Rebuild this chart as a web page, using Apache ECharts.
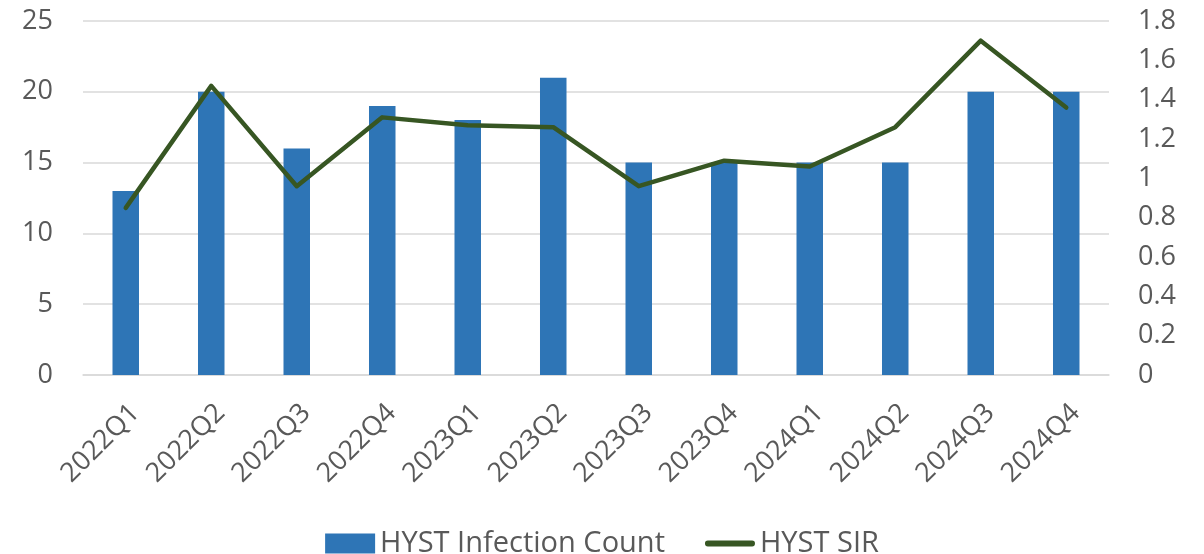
<!DOCTYPE html>
<html>
<head>
<meta charset="utf-8">
<script src="https://cdn.jsdelivr.net/npm/echarts@6/dist/echarts.min.js"></script>
<style>
html,body{margin:0;padding:0;background:#fff;}
#main{width:1204px;height:554px;}
</style>
</head>
<body>
<div id="main"></div>
<script>
// 数据
var quarters = ['2022Q1','2022Q2','2022Q3','2022Q4','2023Q1','2023Q2','2023Q3','2023Q4','2024Q1','2024Q2','2024Q3','2024Q4'];
var infectionCount = [13,20,16,19,18,21,15,15,15,15,20,20];
var sir = [0.85,1.47,0.96,1.31,1.27,1.26,0.96,1.09,1.06,1.26,1.70,1.36];

var font = 'Open Sans, Noto Sans, sans-serif';
var textColor = '#595959';
//图例中的线条图标
var lineIcon = 'path://M3,0 L49,0 A3,3 0 0 1 49,6 L3,6 A3,3 0 0 1 3,0 Z';

var myChart = echarts.init(document.getElementById('main'));
var option = {
    animation: false,
    grid: {left: 83, right: 95, top: 21, bottom: 179},
    legend: {
        top: 524,
        left: 'center',
        itemGap: 40,
        itemWidth: 50,
        itemHeight: 20,
        textStyle: {fontFamily: font, fontSize: 29, color: textColor},
        data: [
            {name: 'HYST Infection Count', icon: 'rect'},
            {name: 'HYST SIR', icon: lineIcon}
        ]
    },
    xAxis: {
        type: 'category',
        data: quarters,
        axisLine: {lineStyle: {color: '#d9d9d9', width: 1.5}},
        axisTick: {show: false},
        axisLabel: {
            rotate: 45,
            margin: 24,
            verticalAlign: 'top',
            fontFamily: font,
            fontSize: 27,
            color: textColor
        }
    },
    yAxis: [{
        type: 'value',
        min: 0,
        max: 25,
        interval: 5,
        axisLine: {show: false},
        axisTick: {show: false},
        splitLine: {lineStyle: {color: '#d9d9d9', width: 1.5}},
        axisLabel: {fontFamily: font, fontSize: 27, color: textColor, margin: 30}
    }, {
        type: 'value',
        min: 0,
        max: 1.8,
        interval: 0.2,
        axisLine: {show: false},
        axisTick: {show: false},
        splitLine: {show: false},
        axisLabel: {fontFamily: font, fontSize: 27, color: textColor, margin: 29,
            formatter: function (v) { return String(Math.round(v * 10) / 10); }}
    }],
    series: [{
        name: 'HYST Infection Count',
        type: 'bar',
        data: infectionCount,
        barWidth: '31%',
        itemStyle: {color: '#2e75b6'}
    }, {
        name: 'HYST SIR',
        type: 'line',
        yAxisIndex: 1,
        data: sir,
        symbol: 'none',
        lineStyle: {color: '#375623', width: 4.5, cap: 'round', join: 'round'},
        itemStyle: {color: '#375623'}
    }]
};
myChart.setOption(option);
</script>
</body>
</html>
